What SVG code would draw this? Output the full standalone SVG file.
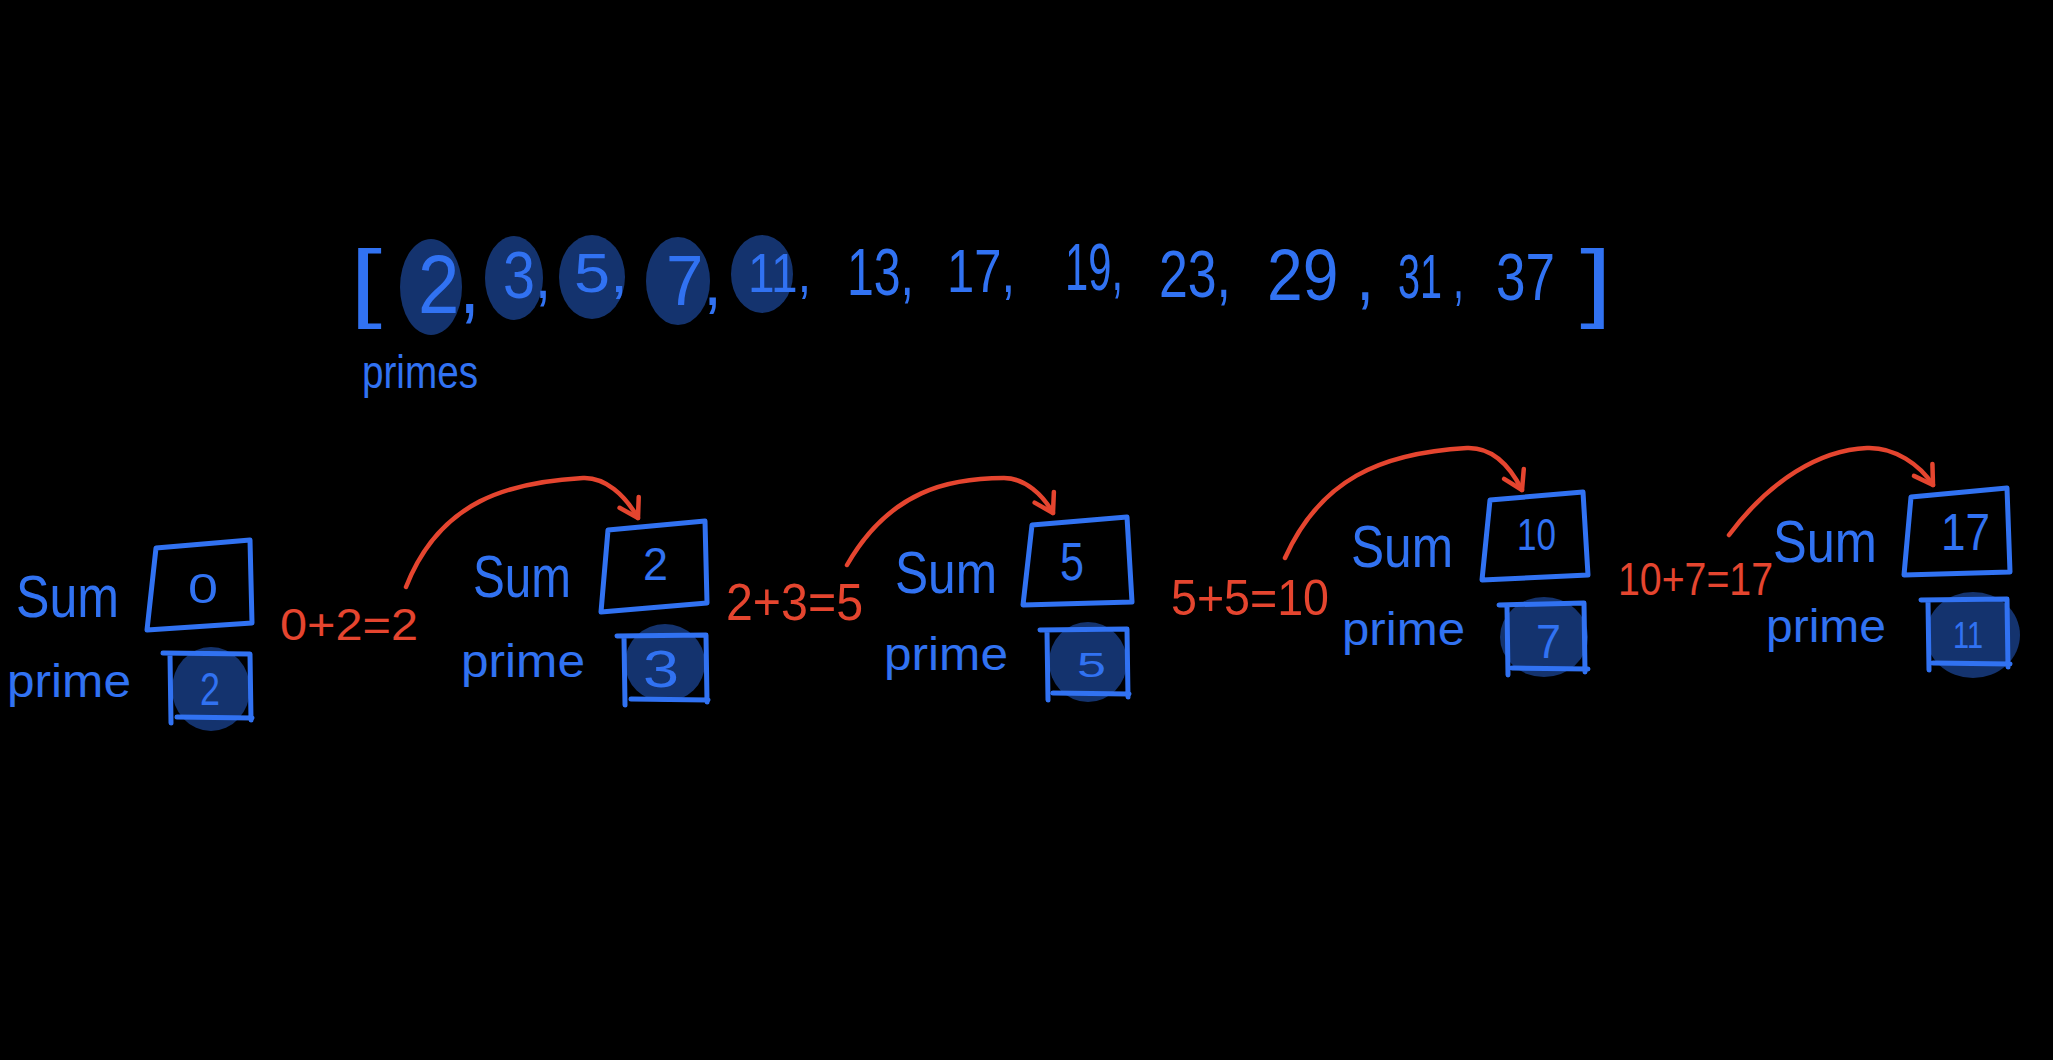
<svg xmlns="http://www.w3.org/2000/svg" width="2053" height="1060" viewBox="0 0 2053 1060">
<style>
.b{fill:#3172F2;font-family:"Liberation Sans",Arial,sans-serif;}
.r{fill:#E5452F;font-family:"Liberation Sans",Arial,sans-serif;}
.box{fill:none;stroke:#3172F2;stroke-width:5;stroke-linejoin:round;stroke-linecap:round;}
.blob{fill:#14336E;}
.arr{fill:none;stroke:#E5452F;stroke-width:4.5;stroke-linecap:round;}
</style>
<defs>
<marker id="ah" markerUnits="userSpaceOnUse" markerWidth="28" markerHeight="28" viewBox="0 0 28 28" refX="23" refY="14" orient="auto">
<path d="M5,3 L23,14 L5,25" fill="none" stroke="#E5452F" stroke-width="4.5" stroke-linecap="round" stroke-linejoin="round"/>
</marker>
</defs>
<rect width="2053" height="1060" fill="#000"/>

<g id="primes-array">
<ellipse class="blob" cx="431" cy="287" rx="31" ry="48"/>
<ellipse class="blob" cx="514" cy="278" rx="29" ry="42"/>
<ellipse class="blob" cx="592" cy="277" rx="33" ry="42"/>
<ellipse class="blob" cx="678" cy="281" rx="32" ry="44"/>
<ellipse class="blob" cx="762" cy="274" rx="31" ry="39"/>
<text class="b" x="350" y="311" font-size="88" textLength="32" lengthAdjust="spacingAndGlyphs">[</text>
<text class="b" x="418" y="313" font-size="84" textLength="62" lengthAdjust="spacingAndGlyphs">2,</text>
<text class="b" x="503" y="298" font-size="67" textLength="48" lengthAdjust="spacingAndGlyphs">3,</text>
<text class="b" x="574" y="292" font-size="56" textLength="54" lengthAdjust="spacingAndGlyphs">5,</text>
<text class="b" x="666" y="305" font-size="70" textLength="56" lengthAdjust="spacingAndGlyphs">7,</text>
<text class="b" x="748" y="292" font-size="56" textLength="63" lengthAdjust="spacingAndGlyphs">11,</text>
<text class="b" x="847" y="295" font-size="66" textLength="67" lengthAdjust="spacingAndGlyphs">13,</text>
<text class="b" x="947" y="292" font-size="62" textLength="68" lengthAdjust="spacingAndGlyphs">17,</text>
<text class="b" x="1065" y="290" font-size="67" textLength="58" lengthAdjust="spacingAndGlyphs">19,</text>
<text class="b" x="1159" y="297" font-size="66" textLength="72" lengthAdjust="spacingAndGlyphs">23,</text>
<text class="b" x="1267" y="300" font-size="72" textLength="107" lengthAdjust="spacingAndGlyphs">29 ,</text>
<text class="b" x="1398" y="298" font-size="63" textLength="66" lengthAdjust="spacingAndGlyphs">31 ,</text>
<text class="b" x="1496" y="300" font-size="66" textLength="59" lengthAdjust="spacingAndGlyphs">37</text>
<text class="b" x="1580" y="311" font-size="88" textLength="32" lengthAdjust="spacingAndGlyphs">]</text>
<text class="b" x="362" y="388" font-size="46" textLength="116" lengthAdjust="spacingAndGlyphs">primes</text>
</g>

<g id="connectors">
<path class="arr" d="M406,587 C440,500 510,482 583,478 C605,477 625,495 638,518" marker-end="url(#ah)"/>
<path class="arr" d="M847,565 C890,490 950,478 1004,478 C1025,478 1043,495 1053,513" marker-end="url(#ah)"/>
<path class="arr" d="M1285,558 C1320,480 1380,453 1467,448 C1495,447 1512,470 1522,490" marker-end="url(#ah)"/>
<path class="arr" d="M1729,535 C1770,480 1820,450 1867,448 C1895,447 1920,465 1933,485" marker-end="url(#ah)"/>
<text class="r" x="280" y="640" font-size="45" textLength="138" lengthAdjust="spacingAndGlyphs">0+2=2</text>
<text class="r" x="726" y="620" font-size="52" textLength="137" lengthAdjust="spacingAndGlyphs">2+3=5</text>
<text class="r" x="1171" y="615" font-size="50" textLength="158" lengthAdjust="spacingAndGlyphs">5+5=10</text>
<text class="r" x="1618" y="595" font-size="46" textLength="155" lengthAdjust="spacingAndGlyphs">10+7=17</text>
</g>

<g id="node1">
<text class="b" x="16" y="617" font-size="60" textLength="103" lengthAdjust="spacingAndGlyphs">Sum</text>
<polygon class="box" points="156,548 250,540 252,623 147,630"/>
<text class="b" x="188" y="603" font-size="43" textLength="30" lengthAdjust="spacingAndGlyphs">0</text>
<text class="b" x="7" y="697" font-size="46" textLength="124" lengthAdjust="spacingAndGlyphs">prime</text>
<ellipse class="blob" cx="211" cy="689" rx="39" ry="42"/>
<path class="box" d="M163,653 L250,654 L251,720 M170,655 L171,723 M177,717 L252,718"/>
<text class="b" x="200" y="705" font-size="46" textLength="20" lengthAdjust="spacingAndGlyphs">2</text>
</g>

<g id="node2">
<text class="b" x="473" y="597" font-size="60" textLength="98" lengthAdjust="spacingAndGlyphs">Sum</text>
<polygon class="box" points="608,530 705,521 707,603 601,612"/>
<text class="b" x="643" y="580" font-size="46" textLength="25" lengthAdjust="spacingAndGlyphs">2</text>
<text class="b" x="461" y="677" font-size="46" textLength="124" lengthAdjust="spacingAndGlyphs">prime</text>
<ellipse class="blob" cx="665" cy="663" rx="40" ry="39"/>
<path class="box" d="M617,636 L706,635 L707,702 M624,637 L625,705 M631,699 L708,700"/>
<text class="b" x="643" y="687" font-size="52" textLength="36" lengthAdjust="spacingAndGlyphs">3</text>
</g>

<g id="node3">
<text class="b" x="895" y="593" font-size="60" textLength="102" lengthAdjust="spacingAndGlyphs">Sum</text>
<polygon class="box" points="1032,525 1127,517 1132,602 1023,605"/>
<text class="b" x="1060" y="580" font-size="53" textLength="24" lengthAdjust="spacingAndGlyphs">5</text>
<text class="b" x="884" y="670" font-size="46" textLength="124" lengthAdjust="spacingAndGlyphs">prime</text>
<ellipse class="blob" cx="1088" cy="662" rx="39" ry="40"/>
<path class="box" d="M1040,630 L1127,629 L1128,697 M1047,631 L1048,700 M1053,693 L1129,694"/>
<text class="b" x="1077" y="677" font-size="35" textLength="29" lengthAdjust="spacingAndGlyphs">5</text>
</g>

<g id="node4">
<text class="b" x="1351" y="567" font-size="60" textLength="102" lengthAdjust="spacingAndGlyphs">Sum</text>
<polygon class="box" points="1490,500 1583,492 1588,575 1482,580"/>
<text class="b" x="1517" y="550" font-size="45" textLength="39" lengthAdjust="spacingAndGlyphs">10</text>
<text class="b" x="1342" y="645" font-size="46" textLength="123" lengthAdjust="spacingAndGlyphs">prime</text>
<ellipse class="blob" cx="1544" cy="637" rx="44" ry="40"/>
<path class="box" d="M1499,605 L1584,603 L1585,672 M1507,606 L1508,675 M1512,668 L1588,669"/>
<text class="b" x="1536" y="658" font-size="49" textLength="25" lengthAdjust="spacingAndGlyphs">7</text>
</g>

<g id="node5">
<text class="b" x="1773" y="562" font-size="60" textLength="104" lengthAdjust="spacingAndGlyphs">Sum</text>
<polygon class="box" points="1911,497 2007,488 2010,572 1904,575"/>
<text class="b" x="1941" y="550" font-size="52" textLength="49" lengthAdjust="spacingAndGlyphs">17</text>
<text class="b" x="1766" y="642" font-size="46" textLength="120" lengthAdjust="spacingAndGlyphs">prime</text>
<ellipse class="blob" cx="1973" cy="635" rx="47" ry="43"/>
<path class="box" d="M1921,600 L2007,599 L2008,667 M1928,601 L1929,670 M1933,663 L2010,664"/>
<text class="b" x="1953" y="648" font-size="36" textLength="30" lengthAdjust="spacingAndGlyphs">11</text>
</g>
</svg>
